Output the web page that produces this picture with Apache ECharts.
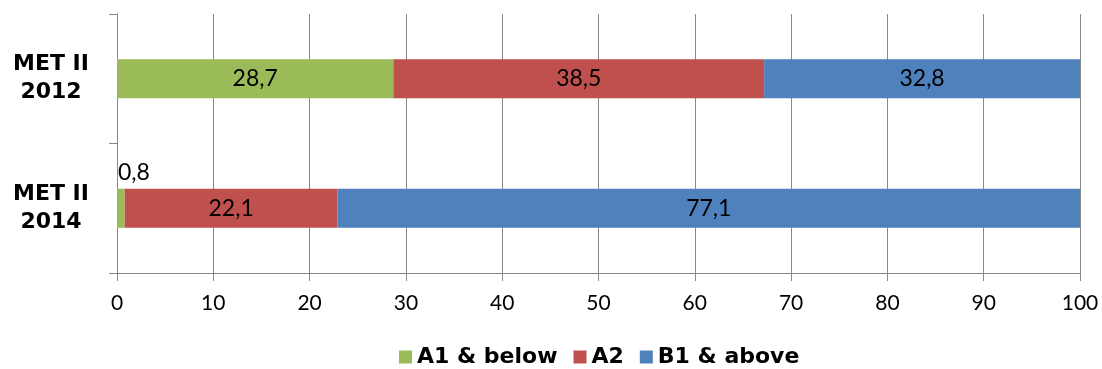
<!DOCTYPE html>
<html>
<head>
<meta charset="utf-8">
<script src="https://cdn.jsdelivr.net/npm/echarts@6/dist/echarts.min.js"></script>
<style>
  html, body { margin: 0; padding: 0; background: #fff; }
  #chart { width: 1102px; height: 369px; }
</style>
</head>
<body>
<div id="chart"></div>
<script>
// Survey groups (top to bottom) and the share of each proficiency band, in %
const categories = ['MET II\n2012', 'MET II\n2014'];
const seriesNames = ['A1 & below', 'A2', 'B1 & above'];
const a1Below = [28.7, 0.8];
const a2 = [38.5, 22.1];
const b1Above = [32.8, 77.1];
const xTicks = { min: 0, max: 100, interval: 10 };

const colors = ['#9BBB59', '#C0504D', '#4F81BD'];
const labelFont = 'Lato, "DejaVu Sans", sans-serif';
const boldFont = '"DejaVu Sans", sans-serif';
const gridColor = '#878787';

const fmt = v => String(v).replace('.', ',');

function makeSeries(name, values, color) {
  return {
    name: name,
    type: 'bar',
    stack: 'total',
    barWidth: 39,
    itemStyle: { color: color },
    label: {
      show: true,
      position: 'inside',
      color: '#000',
      fontFamily: labelFont,
      fontSize: 23,
      formatter: p => fmt(p.value)
    },
    data: values.map(v => {
      // very thin segments carry their label above the bar
      if (v < 3) {
        return {
          value: v,
          label: { position: [1, -28], align: 'left' }
        };
      }
      return v;
    })
  };
}

const chart = echarts.init(document.getElementById('chart'), null, { renderer: 'canvas' });
chart.setOption({
  animation: false,
  color: colors,
  grid: { left: 117, right: 22, top: 14, bottom: 96, containLabel: false },
  legend: {
    bottom: -4,
    left: 394,
    itemWidth: 13,
    itemHeight: 13,
    itemGap: 16,
    icon: 'rect',
    textStyle: { fontFamily: boldFont, fontWeight: 'bold', fontSize: 22, color: '#000' },
    data: seriesNames
  },
  xAxis: {
    type: 'value',
    min: xTicks.min,
    max: xTicks.max,
    interval: xTicks.interval,
    axisLine: { show: true, lineStyle: { color: gridColor, width: 1 } },
    axisTick: { show: true, length: 8, lineStyle: { color: gridColor } },
    splitLine: { show: true, lineStyle: { color: gridColor, width: 1 } },
    axisLabel: { color: '#000', fontFamily: labelFont, fontSize: 21, margin: 20 }
  },
  yAxis: {
    type: 'category',
    inverse: true,
    data: categories,
    axisLine: { show: true, lineStyle: { color: gridColor, width: 1 } },
    axisTick: { show: true, length: 8, lineStyle: { color: gridColor } },
    axisLabel: {
      color: '#000',
      fontFamily: boldFont,
      fontWeight: 'bold',
      fontSize: 22,
      lineHeight: 28,
      align: 'center',
      margin: 66
    }
  },
  series: [
    makeSeries(seriesNames[0], a1Below, colors[0]),
    makeSeries(seriesNames[1], a2, colors[1]),
    makeSeries(seriesNames[2], b1Above, colors[2])
  ]
});
</script>
</body>
</html>
